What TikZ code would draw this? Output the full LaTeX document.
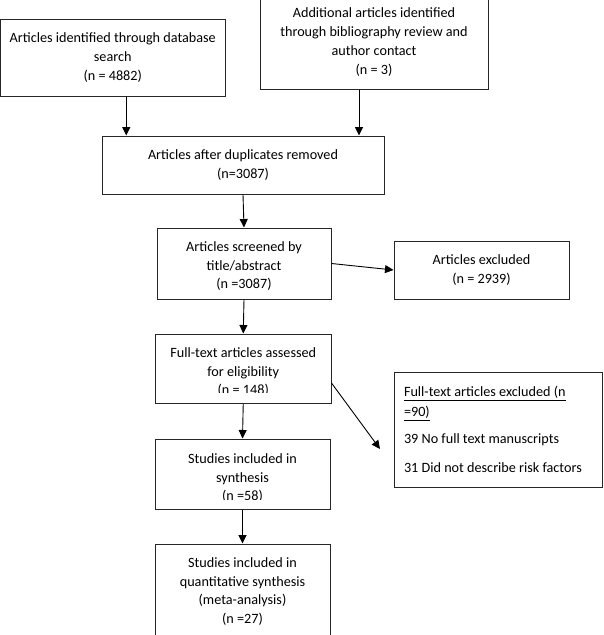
\documentclass[tikz,border=0pt]{standalone}
\usepackage{fontspec}
\setmainfont{Carlito}
\usetikzlibrary{arrows.meta}
\newcommand\mytopgap[1]{\rule{0pt}{#1}}
\begin{document}
\begin{tikzpicture}[x=1pt,y=-1pt,
  box/.style={draw=black!85, line width=1pt, align=center, inner sep=2pt,
    font=\fontsize{14.2}{18.8}\selectfont},
  arr/.style={draw=black, line width=0.9pt, -{Triangle[length=8.5pt,width=8pt]}},
  maskstrip/.style={fill=white}]
\clip (0,0) rectangle (603,635);
\node[box, minimum width=224.5pt, minimum height=77pt] (b1) at (112.75,57.5)
  {Articles identified through database\\search\\(n = 4882)};
\node[box, minimum width=228pt, minimum height=94pt] (b2) at (374,42)
  {Additional articles identified\\through bibliography review and\\author contact\\(n = 3)};
\node[box, minimum width=282pt, minimum height=58pt] (b3) at (243,165)
  {Articles after duplicates removed\\(n=3087)};
\node[box, minimum width=174pt, minimum height=71pt] (b4) at (244,263.5)
  {\mytopgap{15pt}Articles screened by\\title/abstract\\(n =3087)};
\node[box, minimum width=175pt, minimum height=58pt] (b5) at (481.5,270)
  {Articles excluded\\(n = 2939)};
\node[box, minimum width=175.5pt, minimum height=69pt] (b6) at (243.25,368.5)
  {\mytopgap{17pt}Full-text articles assessed\\for eligibility\\(n = 148)};
\node[box, minimum width=208pt, minimum height=115pt, text width=188pt, align=flush left, inner xsep=10pt] (b7) at (498,429.5)
  {\underline{Full-text articles excluded (n}\\[1pt]\underline{=90)}\\[8pt]39 No full text manuscripts\\[10pt]31 Did not describe risk factors};
\node[box, minimum width=175pt, minimum height=70pt] (b8) at (242.5,474)
  {\mytopgap{18pt}Studies included in\\synthesis\\(n =58)};
\node[box, minimum width=175pt, minimum height=95pt] (b9) at (242.5,591.5)
  {Studies included in\\quantitative synthesis\\(meta-analysis)\\(n =27)};
% text clipped at the bottom of some boxes
\fill[maskstrip] ([shift={(1,-1)}]b4.south west) rectangle ([shift={(-1,-9)}]b4.south east);
\fill[maskstrip] ([shift={(1,-1)}]b6.south west) rectangle ([shift={(-1,-10.5)}]b6.south east);
\fill[maskstrip] ([shift={(1,-1)}]b8.south west) rectangle ([shift={(-1,-10)}]b8.south east);
% connectors
\draw[arr] ([xshift=13.5pt]b1.south) -- ([xshift=13.5pt]b1.south |- b3.north);
\draw[arr] ([xshift=-15pt]b2.south) -- ([xshift=-15pt]b2.south |- b3.north);
\draw[arr] (b3.south) -- (b4.north);
\draw[arr] (b4.east) -- (b5.west);
\draw[arr] (b4.south) -- (b6.north);
\coordinate (e7) at (380,449);
\draw[arr] ([yshift=-14.5pt]b6.east) -- (e7);
\draw[arr] (b6.south) -- (b8.north);
\draw[arr] (b8.south) -- (b9.north);
\end{tikzpicture}
\end{document}
